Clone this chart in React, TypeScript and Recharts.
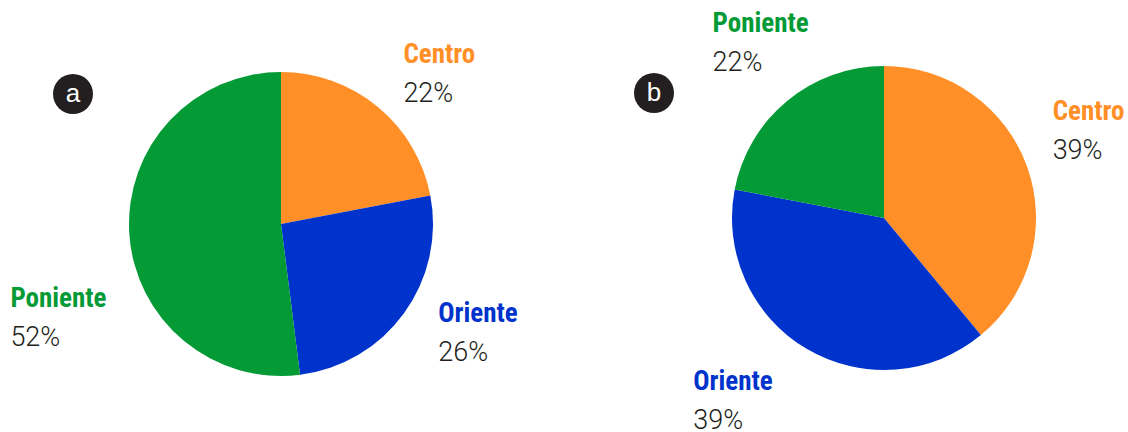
import { PieChart, Pie, Cell } from "recharts";

const NAMES = ["Centro", "Oriente", "Poniente"];
const VALUES_A = [22, 26, 52];
const VALUES_B = [39, 39, 22];

const COLORS: Record<string, string> = {
  Centro: "#ff8f26",
  Oriente: "#0033cc",
  Poniente: "#049a36",
};

// nudges from the default label anchor (radius + 40 along the slice middle)
const NUDGE_A: Record<string, [number, number]> = {
  Centro: [0, -13],
  Oriente: [2, -15],
  Poniente: [-79, 71],
};
const NUDGE_B: Record<string, [number, number]> = {
  Centro: [-12, -33],
  Oriente: [-93, 7],
  Poniente: [-49, -38],
};

const dataA = NAMES.map((name, i) => ({ name, value: VALUES_A[i] }));
const dataB = NAMES.map((name, i) => ({ name, value: VALUES_B[i] }));

const RAD = Math.PI / 180;
const NAME_FONT = "'Liberation Sans Narrow', 'Roboto Condensed', 'DejaVu Sans Condensed', sans-serif";
const PCT_FONT = "Roboto, 'Liberation Sans', sans-serif";

function makeLabel(nudge: Record<string, [number, number]>) {
  return (props: any) => {
    const { cx, cy, midAngle, outerRadius, name, value } = props;
    const r = outerRadius + 40;
    const [dx, dy] = nudge[name] ?? [0, 0];
    const x = cx + r * Math.cos(-midAngle * RAD) + dx;
    const y = cy + r * Math.sin(-midAngle * RAD) + dy;
    return (
      <g>
        <text x={x} y={y} fill={COLORS[name]} fontFamily={NAME_FONT} fontWeight={700} fontSize={27} textAnchor="start">
          {name}
        </text>
        <text x={x} y={y + 39} fill="#231f20" fontFamily={PCT_FONT} fontWeight={300} fontSize={27} textAnchor="start">
          {value}%
        </text>
      </g>
    );
  };
}

function Badge({ letter, left, top }: { letter: string; left: number; top: number }) {
  return (
    <div
      style={{
        position: "absolute",
        left,
        top,
        width: 40,
        height: 40,
        borderRadius: "50%",
        background: "#231f20",
        color: "#fff",
        fontFamily: "'Liberation Sans', Arial, sans-serif",
        fontSize: 26,
        lineHeight: "38px",
        textAlign: "center",
      }}
    >
      {letter}
    </div>
  );
}

export default function App() {
  return (
    <div style={{ position: "absolute", left: 0, top: 0, width: 1128, height: 432, background: "#fff" }}>
      <PieChart width={1128} height={432} margin={{ top: 0, right: 0, bottom: 0, left: 0 }}>
        <Pie
          data={dataA}
          dataKey="value"
          nameKey="name"
          cx={281}
          cy={224}
          outerRadius={152}
          startAngle={90}
          endAngle={-270}
          stroke="none"
          label={makeLabel(NUDGE_A)}
          labelLine={false}
          isAnimationActive={false}
        >
          {dataA.map((d) => (
            <Cell key={d.name} fill={COLORS[d.name]} />
          ))}
        </Pie>
        <Pie
          data={dataB}
          dataKey="value"
          nameKey="name"
          cx={884}
          cy={218}
          outerRadius={152}
          startAngle={90}
          endAngle={-270}
          stroke="none"
          label={makeLabel(NUDGE_B)}
          labelLine={false}
          isAnimationActive={false}
        >
          {dataB.map((d) => (
            <Cell key={d.name} fill={COLORS[d.name]} />
          ))}
        </Pie>
      </PieChart>
      <Badge letter="a" left={53} top={74} />
      <Badge letter="b" left={634} top={73} />
    </div>
  );
}
